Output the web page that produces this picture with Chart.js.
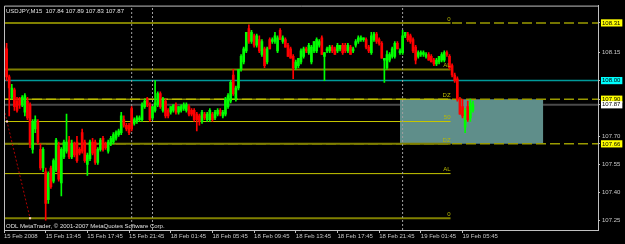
<!DOCTYPE html>
<html>
<head>
<meta charset="utf-8">
<title>USDJPY,M15</title>
<script src="https://cdn.jsdelivr.net/npm/chart.js@4.4.1/dist/chart.umd.min.js"></script>
<style>
    html, body { margin: 0; padding: 0; background: #000000; }
    canvas { display: block; }
</style>
</head>
<body>
<canvas id="myChart" width="625" height="244"></canvas>
<script>
const symbolTitle = "USDJPY,M15  107.84 107.89 107.83 107.87";
const copyrightText = "ODL MetaTrader, \u00A9 2001-2007 MetaQuotes Software Corp.";

const openPrices = [
    108.18,108.17,108.02,107.91,107.95,107.89,107.90,107.87,107.83,107.89,
    107.87,107.63,107.74,107.78,107.63,107.53,107.51,107.36,107.53,107.46,
    107.52,107.65,107.45,107.59,107.62,107.68,107.59,107.66,107.67,107.63,
    107.72,107.67,107.55,107.58,107.67,107.67,107.56,107.63,107.69,107.66,
    107.62,107.66,107.67,107.69,107.71,107.72,107.79,107.76,107.76,107.85,
    107.77,107.78,107.79,107.79,107.86,107.90,107.87,107.80,107.84,107.87,
    107.93,107.84,107.89,107.84,107.83,107.84,107.87,107.83,107.84,107.85,
    107.84,107.86,107.84,107.84,107.82,107.81,107.78,107.82,107.79,107.79,
    107.82,107.80,107.82,107.84,107.81,107.82,107.86,107.89,108.03,107.90,
    107.96,108.06,108.10,108.16,108.28,108.21,108.24,108.19,108.22,108.14,
    108.17,108.10,108.22,108.21,108.21,108.16,108.27,108.21,108.22,108.19,
    108.17,108.13,108.07,108.08,108.10,108.13,108.17,108.15,108.10,108.16,
    108.16,108.19,108.23,108.13,108.16,108.16,108.18,108.17,108.16,108.17,
    108.19,108.19,108.16,108.18,108.16,108.19,108.21,108.22,108.22,108.22,
    108.18,108.15,108.22,108.25,108.22,108.20,108.11,108.07,108.11,108.13,
    108.13,108.20,108.15,108.15,108.24,108.25,108.24,108.22,108.18,108.13,
    108.14,108.14,108.13,108.14,108.13,108.11,108.09,108.10,108.11,108.11,
    108.15,108.13,108.08,108.03,108.01,107.90,107.86,107.75,107.86,107.80,
    107.84
];
const highPrices = [
    108.20,108.20,108.03,107.98,107.96,107.91,107.91,107.92,107.93,107.91,
    107.88,107.79,107.81,107.79,107.66,107.64,107.53,107.51,107.54,107.58,
    107.69,107.67,107.64,107.68,107.82,107.70,107.68,107.67,107.70,107.64,
    107.74,107.68,107.61,107.68,107.69,107.68,107.64,107.69,107.70,107.67,
    107.68,107.70,107.72,107.73,107.74,107.83,107.81,107.77,107.77,107.86,
    107.80,107.81,107.81,107.88,107.90,107.91,107.88,107.86,108.00,107.94,
    107.94,107.91,107.90,107.85,107.86,107.87,107.88,107.86,107.87,107.88,
    107.88,107.87,107.85,107.85,107.83,107.82,107.84,107.83,107.83,107.85,
    107.83,107.84,107.85,107.85,107.84,107.91,107.93,108.00,108.06,107.97,
    108.06,108.14,108.18,108.26,108.30,108.27,108.25,108.25,108.24,108.22,
    108.18,108.18,108.23,108.23,108.26,108.24,108.28,108.24,108.23,108.20,
    108.18,108.14,108.11,108.12,108.17,108.18,108.18,108.20,108.19,108.21,
    108.23,108.22,108.24,108.15,108.18,108.19,108.19,108.18,108.20,108.19,
    108.20,108.20,108.20,108.19,108.18,108.22,108.24,108.24,108.23,108.23,
    108.19,108.26,108.26,108.26,108.23,108.21,108.12,108.16,108.15,108.18,
    108.21,108.21,108.17,108.27,108.26,108.26,108.25,108.23,108.19,108.16,
    108.16,108.16,108.15,108.15,108.14,108.12,108.12,108.13,108.15,108.16,
    108.16,108.14,108.09,108.04,108.02,107.91,107.90,107.85,107.89,107.90,
    107.89
];
const lowPrices = [
    108.10,108.00,107.81,107.90,107.84,107.83,107.85,107.86,107.81,107.79,
    107.64,107.61,107.72,107.66,107.52,107.51,107.25,107.34,107.42,107.45,
    107.51,107.46,107.38,107.58,107.61,107.58,107.58,107.59,107.56,107.60,
    107.61,107.56,107.49,107.57,107.60,107.55,107.55,107.62,107.62,107.63,
    107.61,107.65,107.66,107.68,107.70,107.71,107.75,107.73,107.71,107.73,
    107.76,107.77,107.78,107.78,107.85,107.86,107.78,107.79,107.83,107.86,
    107.85,107.83,107.80,107.80,107.82,107.83,107.82,107.82,107.83,107.84,
    107.83,107.81,107.81,107.78,107.73,107.76,107.77,107.79,107.78,107.78,
    107.78,107.79,107.81,107.81,107.80,107.81,107.85,107.88,107.92,107.89,
    107.95,108.05,108.09,108.15,108.20,108.20,108.18,108.18,108.15,108.13,
    108.07,108.09,108.17,108.20,108.20,108.15,108.22,108.20,108.18,108.13,
    108.12,108.01,108.06,108.07,108.09,108.12,108.15,108.14,108.09,108.15,
    108.15,108.18,108.14,108.00,108.15,108.15,108.15,108.14,108.15,108.16,
    108.14,108.15,108.15,108.14,108.15,108.18,108.20,108.21,108.21,108.17,
    108.15,108.14,108.21,108.20,108.19,108.12,107.99,108.06,108.10,108.12,
    108.12,108.17,108.14,108.14,108.23,108.21,108.20,108.15,108.09,108.12,
    108.13,108.13,108.12,108.11,108.10,108.08,108.08,108.09,108.10,108.10,
    108.13,108.06,108.02,107.99,107.89,107.82,107.80,107.72,107.78,107.78,
    107.83
];
const closePrices = [
    108.11,108.02,107.96,107.96,107.86,107.84,107.87,107.91,107.92,107.80,
    107.66,107.78,107.79,107.67,107.53,107.63,107.34,107.50,107.43,107.57,
    107.68,107.47,107.63,107.67,107.67,107.59,107.66,107.60,107.57,107.61,
    107.62,107.57,107.60,107.67,107.61,107.56,107.63,107.68,107.63,107.64,
    107.67,107.69,107.71,107.72,107.73,107.81,107.76,107.74,107.72,107.74,
    107.79,107.80,107.80,107.87,107.89,107.87,107.79,107.86,107.88,107.93,
    107.86,107.90,107.81,107.81,107.86,107.87,107.83,107.86,107.86,107.87,
    107.87,107.82,107.82,107.79,107.79,107.78,107.83,107.80,107.82,107.84,
    107.79,107.83,107.84,107.82,107.83,107.90,107.92,107.99,107.93,107.96,
    108.06,108.13,108.17,108.26,108.21,108.26,108.19,108.24,108.16,108.21,
    108.08,108.17,108.17,108.22,108.24,108.23,108.22,108.23,108.18,108.13,
    108.12,108.07,108.10,108.12,108.16,108.17,108.16,108.19,108.18,108.21,
    108.22,108.21,108.14,108.15,108.17,108.18,108.16,108.14,108.19,108.19,
    108.15,108.16,108.19,108.14,108.17,108.21,108.23,108.23,108.23,108.18,
    108.16,108.24,108.25,108.21,108.20,108.12,108.12,108.14,108.14,108.17,
    108.20,108.17,108.16,108.24,108.26,108.22,108.21,108.16,108.11,108.15,
    108.15,108.15,108.14,108.11,108.10,108.09,108.11,108.13,108.14,108.15,
    108.14,108.07,108.03,108.00,107.90,107.82,107.81,107.84,107.79,107.88,
    107.87
];

const timeTickIndex = [0, 16, 32, 48, 64, 80, 96, 112, 128, 144, 160, 176];
const timeTickLabels = ["15 Feb 2008", "15 Feb 13:45", "15 Feb 17:45", "15 Feb 21:45",
    "18 Feb 01:45", "18 Feb 05:45", "18 Feb 09:45", "18 Feb 13:45", "18 Feb 17:45",
    "18 Feb 21:45", "19 Feb 01:45", "19 Feb 05:45"];

const priceTicks = [108.31, 108.15, 108.00, 107.90, 107.87, 107.70, 107.66, 107.55, 107.40, 107.25];
const markedPrices = [108.31, 108.00, 107.90, 107.87, 107.66];
const markedColors = ["#ffff00", "#00ffff", "#ffff00", "#ffffff", "#ffff00"];

const fiboLevels = [108.31, 108.06, 107.90, 107.78, 107.66, 107.50, 107.26];
const fiboNames = ["0", "AL", "DZ", "50", "DZ", "AL", "0"];
const fiboColors = ["#808000", "#808000", "#c8c800", "#c8c800", "#808000", "#c8c800", "#808000"];
const fiboWidths = [2, 2, 1, 1, 2, 1, 2];
const fiboEndBar = 171.4;

const hLinePrices = [108.31, 107.90, 107.66];
const cyanLinePrice = 108.00;
const bidPrice = 107.87;
const separatorBars = [49, 57, 153];

const trendBars = [-1, 1.15, 10];
const trendPrices = [107.91, 107.78, 107.26];

const zoneBars = [152, 207];
const zonePrices = [107.90, 107.66];

const xMin = 0;
const xMax = 228;
const yMin = 107.197;
const yMax = 108.403;
const fontFamily = "'Liberation Sans', Arial, sans-serif";

let chart;

function LineSet(points, color, width, dash, order)
{
    return {
        type: 'line',
        data: points,
        borderColor: color,
        borderWidth: width,
        borderDash: dash,
        pointRadius: 0,
        fill: false,
        tension: 0,
        order: order
    };
}

function BuildDatasets()
{
    const bodies = [];
    const wicks = [];
    const colors = [];
    for (let i = 0; i < openPrices.length; i++)
    {
        bodies.push({ x: i, y: [openPrices[i], closePrices[i]] });
        wicks.push({ x: i, y: [lowPrices[i], highPrices[i]] });
        colors.push(closePrices[i] >= openPrices[i] ? '#00ff00' : '#ff0000');
    }

    const sets = [];

    // the bid line sits behind the zone, the levels on top of it
    sets.push(LineSet([{ x: xMin, y: bidPrice }, { x: xMax, y: bidPrice }], '#4a4a4a', 2, [], 20));

    sets.push({
        type: 'line',
        data: [{ x: zoneBars[0], y: zonePrices[0] }, { x: zoneBars[1], y: zonePrices[0] }],
        borderWidth: 0,
        pointRadius: 0,
        backgroundColor: '#5f8e8a',
        fill: { value: zonePrices[1] },
        order: 19
    });

    sets.push(LineSet([{ x: xMin, y: cyanLinePrice }, { x: xMax, y: cyanLinePrice }], '#009a9a', 1.5, [], 18));

    hLinePrices.forEach(p =>
    {
        sets.push(LineSet([{ x: xMin, y: p }, { x: xMax, y: p }], '#9a9a00', 1.5, [10, 4], 17));
    });

    fiboLevels.forEach((p, i) =>
    {
        sets.push(LineSet([{ x: xMin, y: p }, { x: fiboEndBar, y: p }], fiboColors[i], fiboWidths[i], [], 16));
    });

    separatorBars.forEach(b =>
    {
        sets.push(LineSet([{ x: b, y: yMin }, { x: b, y: yMax }], '#a0a0a0', 1, [2, 2], 15));
    });

    const trend = LineSet(trendBars.map((b, i) => ({ x: b, y: trendPrices[i] })), '#b00000', 1, [2, 2], 14);
    trend.pointRadius = [0, 1.5, 1.5];
    trend.pointStyle = 'rect';
    trend.pointBackgroundColor = '#ffd0d0';
    trend.pointBorderWidth = 0;
    sets.push(trend);

    sets.push({
        type: 'bar',
        data: wicks,
        backgroundColor: colors,
        barThickness: 1,
        grouped: false,
        order: 2
    });
    sets.push({
        type: 'bar',
        data: bodies,
        backgroundColor: colors,
        barThickness: 2,
        minBarLength: 1,
        grouped: false,
        order: 1
    });

    return sets;
}

const overlayPlugin = {
    id: 'mtOverlay',
    beforeDraw(c)
    {
        const ctx = c.ctx;
        ctx.save();
        ctx.fillStyle = '#000000';
        ctx.fillRect(0, 0, c.width, c.height);
        ctx.restore();
    },
    afterDatasetsDraw(c)
    {
        const ctx = c.ctx;
        const area = c.chartArea;
        const xs = c.scales.x;
        const ys = c.scales.y;
        ctx.save();
        ctx.font = '6px ' + fontFamily;
        ctx.textAlign = 'right';
        ctx.textBaseline = 'bottom';
        fiboLevels.forEach((p, i) =>
        {
            ctx.fillStyle = '#b8b800';
            ctx.fillText(fiboNames[i], xs.getPixelForValue(fiboEndBar), ys.getPixelForValue(p) - 1);
        });

        ctx.textAlign = 'left';
        ctx.textBaseline = 'top';
        ctx.fillStyle = '#e0e0e0';
        ctx.fillText(symbolTitle, area.left + 2, area.top + 3);
        ctx.textBaseline = 'bottom';
        ctx.fillText(copyrightText, area.left + 2, area.bottom - 1);

        ctx.strokeStyle = '#c0c0c0';
        ctx.lineWidth = 1;
        ctx.beginPath();
        ctx.moveTo(area.left + 0.5, area.bottom);
        ctx.lineTo(area.left + 0.5, area.top + 0.5);
        ctx.lineTo(area.right, area.top + 0.5);
        ctx.stroke();
        ctx.restore();
    }
};

function InitializeChart()
{
    chart = new Chart(document.getElementById("myChart"), {
        type: 'bar',
        data: {
            datasets: BuildDatasets()
        },
        options: {
            responsive: false,
            animation: false,
            layout: {
                padding: { left: 2, top: 1, right: 0, bottom: 0 }
            },
            plugins: {
                legend: { display: false },
                tooltip: { enabled: false }
            },
            scales: {
                x: {
                    type: 'linear',
                    min: xMin,
                    max: xMax,
                    offset: false,
                    afterBuildTicks: function (scale)
                    {
                        scale.ticks = timeTickIndex.map(v => ({ value: v }));
                    },
                    afterFit: function (scale)
                    {
                        scale.height = 14;
                    },
                    grid: {
                        offset: false,
                        drawOnChartArea: false,
                        drawTicks: true,
                        tickLength: 3,
                        color: '#c0c0c0'
                    },
                    border: { display: true, color: '#c0c0c0' },
                    ticks: {
                        autoSkip: false,
                        maxRotation: 0,
                        minRotation: 0,
                        align: 'start',
                        padding: 0,
                        color: '#c8c8c8',
                        font: { family: fontFamily, size: 6 },
                        callback: function (value)
                        {
                            return timeTickLabels[timeTickIndex.indexOf(value)];
                        }
                    }
                },
                y: {
                    position: 'right',
                    min: yMin,
                    max: yMax,
                    afterBuildTicks: function (scale)
                    {
                        scale.ticks = priceTicks.map(v => ({ value: v }));
                    },
                    afterFit: function (scale)
                    {
                        scale.width = 27;
                    },
                    grid: {
                        drawOnChartArea: false,
                        drawTicks: true,
                        tickLength: 2,
                        color: '#c0c0c0'
                    },
                    border: { display: true, color: '#c0c0c0' },
                    ticks: {
                        autoSkip: false,
                        padding: 2,
                        font: { family: fontFamily, size: 6 },
                        color: function (ctx)
                        {
                            return markedPrices.includes(ctx.tick.value) ? '#000000' : '#c8c8c8';
                        },
                        showLabelBackdrop: function (ctx)
                        {
                            return markedPrices.includes(ctx.tick.value);
                        },
                        backdropColor: function (ctx)
                        {
                            const k = markedPrices.indexOf(ctx.tick.value);
                            return k >= 0 ? markedColors[k] : 'rgba(0,0,0,0)';
                        },
                        backdropPadding: { top: 0, bottom: 0, left: 1, right: 2 },
                        callback: function (value)
                        {
                            return value.toFixed(2);
                        }
                    }
                }
            }
        },
        plugins: [overlayPlugin]
    });
}

InitializeChart();
</script>
</body>
</html>
